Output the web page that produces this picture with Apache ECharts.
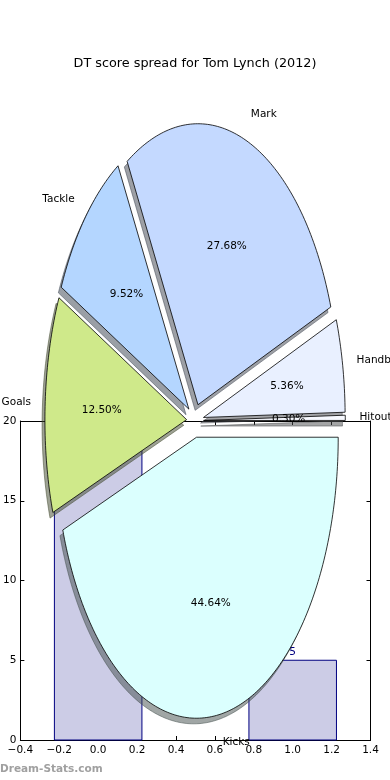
<!DOCTYPE html>
<html><head><meta charset="utf-8">
<script src="https://cdn.jsdelivr.net/npm/echarts@6/dist/echarts.min.js"></script>
<style>html,body{margin:0;padding:0;background:#fff}#c{width:390px;height:780px}</style>
</head><body><div id="c"></div>
<script>
const titleText = 'DT score spread for Tom Lynch (2012)';
const pieLabels = ['Hitout', 'Handball', 'Mark', 'Tackle', 'Goals', 'Kicks'];
const pieValues = [1, 18, 93, 32, 42, 150];
const pieColors = ['#f7f9ff', '#e9f0ff', '#c4d9ff', '#b4d6ff', '#cfe98a', '#dbfffe'];
const pieExplode = [0.06, 0.06, 0.06, 0.06, 0.06, 0.06];
const barPositions = [0, 1];
const barValues = [25, 5];
const xMin = -0.4, xMax = 1.4, xStep = 0.2;
const yMin = 0, yMax = 20, yStep = 5;

const FONT = 'DejaVu Sans';
const total = pieValues.reduce((a, b) => a + b, 0);

function geom(i) {
  let start = 0;
  for (let k = 0; k < i; k++) start += pieValues[k];
  const t1 = start / total * Math.PI * 2;
  const t2 = (start + pieValues[i]) / total * Math.PI * 2;
  const tm = (t1 + t2) / 2;
  return { t1, t2, tm, ox: pieExplode[i] * Math.cos(tm), oy: pieExplode[i] * Math.sin(tm) };
}
function wedgePoints(api, g, dx, dy) {
  const p = [api.coord([g.ox + dx, g.oy + dy])];
  const n = Math.max(2, Math.ceil((g.t2 - g.t1) / (Math.PI / 180)));
  for (let j = 0; j <= n; j++) {
    const t = g.t1 + (g.t2 - g.t1) * j / n;
    p.push(api.coord([g.ox + dx + Math.cos(t), g.oy + dy + Math.sin(t)]));
  }
  return p;
}
function shade(hex) {
  const r = parseInt(hex.slice(1, 3), 16), gg = parseInt(hex.slice(3, 5), 16), b = parseInt(hex.slice(5, 7), 16);
  return 'rgba(' + Math.round(r * 0.3) + ',' + Math.round(gg * 0.3) + ',' + Math.round(b * 0.3) + ',0.5)';
}
const pieData = pieValues.map((v, i) => [i, v]);
const barData = barPositions.map((x, i) => [x, barValues[i]]);

const chart = echarts.init(document.getElementById('c'), null, { renderer: 'canvas' });
const axisCommon = {
  type: 'value', splitLine: { show: false },
  axisLine: { show: true, onZero: false, lineStyle: { color: '#000', width: 1 } },
  axisTick: { show: true, inside: true, length: 4, lineStyle: { color: '#000' } }
};
chart.setOption({
  animation: false,
  backgroundColor: '#fff',
  title: {
    text: titleText, left: 'center', top: 52,
    textStyle: { fontFamily: FONT, fontSize: 12.8, fontWeight: 'normal', color: '#000' }
  },
  graphic: [{
    type: 'text', left: 0, top: 764,
    style: { text: 'Dream-Stats.com', fill: '#a0a0a0', font: 'bold 10.5px ' + FONT }
  }],
  grid: [
    { left: 19, right: 19.5, top: 421, bottom: 40, show: false },
    { left: 10.9, width: 368.4, top: 83.4, height: 674.4, show: false }
  ],
  xAxis: [
    Object.assign({}, axisCommon, {
      gridIndex: 0, min: xMin, max: xMax, interval: xStep, position: 'bottom',
      axisLabel: {
        color: '#000', fontFamily: FONT, fontSize: 10.5, margin: 5,
        formatter: v => (Math.abs(v) < 1e-9 ? '0.0' : (v < 0 ? '\u2212' : '') + Math.abs(v).toFixed(1))
      }
    }),
    Object.assign({}, axisCommon, {
      gridIndex: 0, min: xMin, max: xMax, interval: xStep, position: 'top',
      axisLabel: { show: false }
    }),
    { type: 'value', gridIndex: 1, min: -1.3, max: 1.3, show: false }
  ],
  yAxis: [
    Object.assign({}, axisCommon, {
      gridIndex: 0, min: yMin, max: yMax, interval: yStep, position: 'left',
      axisLabel: { color: '#000', fontFamily: FONT, fontSize: 10.5, margin: 4 }
    }),
    Object.assign({}, axisCommon, {
      gridIndex: 0, min: yMin, max: yMax, interval: yStep, position: 'right',
      axisLabel: { show: false }
    }),
    { type: 'value', gridIndex: 1, min: -1.2, max: 1.2, show: false }
  ],
  series: [
    {
      type: 'custom', xAxisIndex: 0, yAxisIndex: 0, z: 2, data: barData,
      renderItem: function (params, api) {
        const x = api.value(0), h = api.value(1);
        const top = Math.min(h, yMax);
        const p1 = api.coord([x - 0.225, 0]);
        const p2 = api.coord([x + 0.225, top]);
        const children = [{
          type: 'rect',
          shape: { x: p1[0], y: p2[1], width: p2[0] - p1[0], height: p1[1] - p2[1] },
          style: { fill: '#ccccE6', stroke: '#000080', lineWidth: 1 }
        }];
        if (h <= yMax) {
          const lp = api.coord([x, h]);
          children.push({
            type: 'text',
            style: { text: String(h), x: lp[0], y: lp[1] - 2, fill: '#000080', font: '10.5px ' + FONT, align: 'center', verticalAlign: 'bottom' }
          });
        }
        return { type: 'group', children: children };
      }
    },
    {
      type: 'custom', xAxisIndex: 2, yAxisIndex: 2, z: 3, data: pieData,
      renderItem: function (params, api) {
        const i = api.value(0);
        const g = geom(i);
        return {
          type: 'polygon', shape: { points: wedgePoints(api, g, -0.02, -0.02) },
          style: { fill: shade(pieColors[i]), stroke: shade(pieColors[i]), lineWidth: 1 }
        };
      }
    },
    {
      type: 'custom', xAxisIndex: 2, yAxisIndex: 2, z: 4, data: pieData,
      renderItem: function (params, api) {
        const i = api.value(0);
        const g = geom(i);
        return {
          type: 'polygon', shape: { points: wedgePoints(api, g, 0, 0) },
          style: { fill: pieColors[i], stroke: '#000', lineWidth: 0.8, lineJoin: 'miter' }
        };
      }
    },
    {
      type: 'custom', xAxisIndex: 2, yAxisIndex: 2, z: 5, data: pieData,
      renderItem: function (params, api) {
        const i = api.value(0);
        const g = geom(i);
        const c = Math.cos(g.tm), s = Math.sin(g.tm);
        const lp = api.coord([g.ox + 1.1 * c, g.oy + 1.1 * s]);
        const pp = api.coord([g.ox + 0.6 * c, g.oy + 0.6 * s]);
        const pct = (api.value(1) / total * 100).toFixed(2) + '%';
        return {
          type: 'group', children: [
            { type: 'text', style: { text: pieLabels[i], x: lp[0], y: lp[1], fill: '#000', font: '10.5px ' + FONT, align: c > 0 ? 'left' : 'right', verticalAlign: 'middle' } },
            { type: 'text', style: { text: pct, x: pp[0], y: pp[1], fill: '#000', font: '10.5px ' + FONT, align: 'center', verticalAlign: 'middle' } }
          ]
        };
      }
    }
  ]
});
</script>
</body></html>
